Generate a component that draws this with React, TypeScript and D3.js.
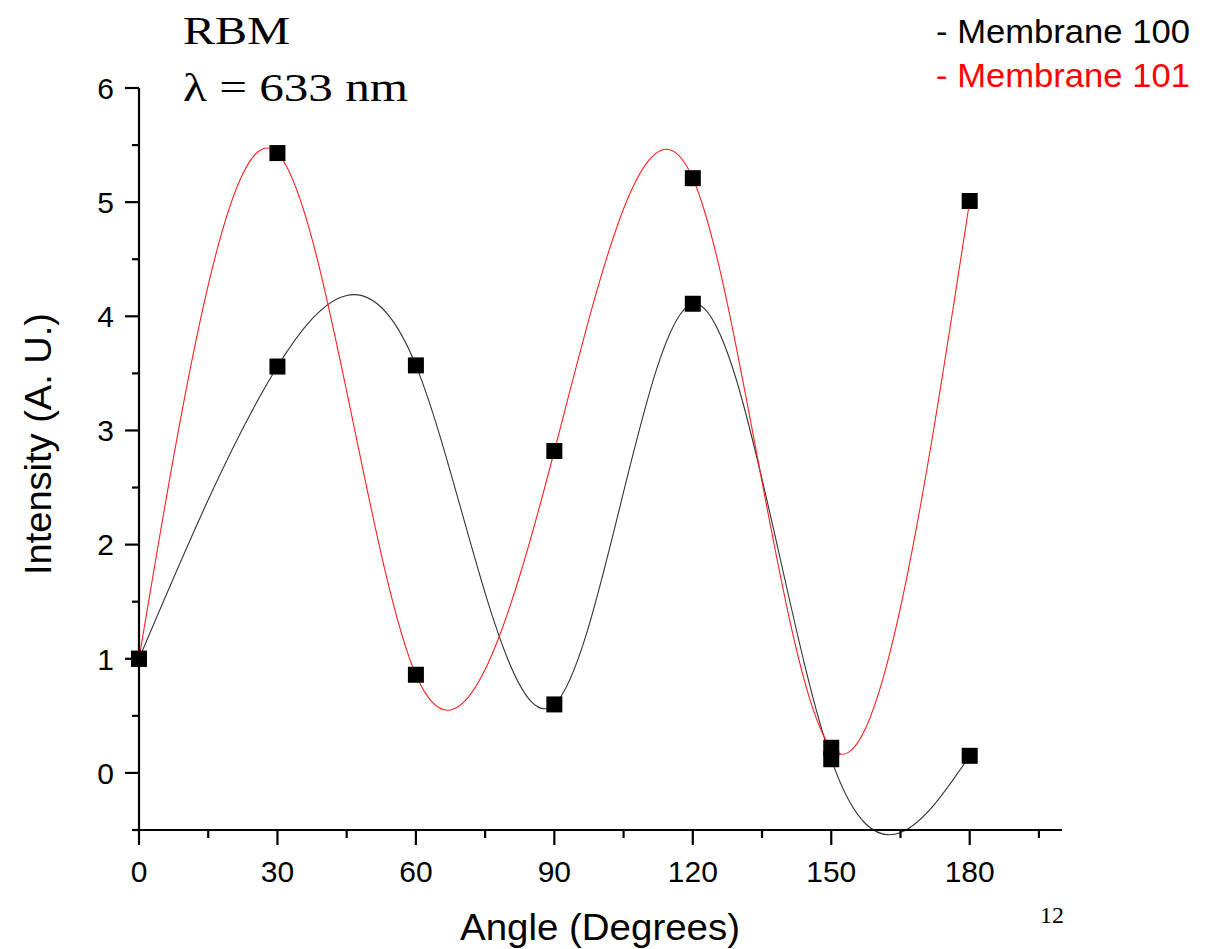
import React from "react";
import * as d3 from "d3";

const angles = [0, 30, 60, 90, 120, 150, 180];
const membrane100 = [1.0, 3.56, 3.57, 0.6, 4.11, 0.12, 0.15];
const membrane101 = [1.0, 5.43, 0.86, 2.82, 5.21, 0.22, 5.01];
const xTicks = [0, 30, 60, 90, 120, 150, 180];
const xMinor = [15, 45, 75, 105, 135, 165, 195];
const yTicks = [0, 1, 2, 3, 4, 5, 6];
const yMinor = [-0.5, 0.5, 1.5, 2.5, 3.5, 4.5, 5.5];
const seriesNames = ["- Membrane 100", "- Membrane 101"];
const seriesColors = ["#000000", "#ff0000"];

export default function App() {
  const W = 1209, H = 949;
  const x = d3.scaleLinear().domain([0, 200]).range([139, 1062]);
  const y = d3.scaleLinear().domain([-0.5, 6]).range([830, 88]);
  const line = d3
    .line<[number, number]>()
    .x((d) => x(d[0]))
    .y((d) => y(d[1]))
    .curve(d3.curveNatural);
  const series = [membrane100, membrane101];
  const sans = "'Liberation Sans', Arial, sans-serif";
  const serif = "'Liberation Serif', 'Times New Roman', serif";
  const ms = 16;
  return (
    <svg width={W} height={H} style={{ position: "absolute", left: 0, top: 0 }} fontFamily={sans}>
      <rect width={W} height={H} fill="#fff" />
      {/* curves */}
      {series.map((vals, i) => (
        <path
          key={i}
          d={line(angles.map((a, j) => [a, vals[j]] as [number, number])) || ""}
          fill="none"
          stroke={i === 0 ? "#333" : "#ff2020"}
          strokeWidth={1.1}
        />
      ))}
      {/* axes */}
      <line x1={x(0)} x2={x(0)} y1={y(6)} y2={y(-0.5) + 2} stroke="#000" strokeWidth={2.2} />
      <line x1={x(0) - 7} x2={x(200)} y1={y(-0.5)} y2={y(-0.5)} stroke="#000" strokeWidth={2.2} />
      {yTicks.map((t) => (
        <g key={"y" + t}>
          <line x1={x(0) - 14} x2={x(0)} y1={y(t)} y2={y(t)} stroke="#000" strokeWidth={2.2} />
          <text x={114} y={y(t)} dy="0.36em" textAnchor="end" fontSize={30}>
            {t}
          </text>
        </g>
      ))}
      {yMinor.map((t) => (
        <line key={"ym" + t} x1={x(0) - 7} x2={x(0)} y1={y(t)} y2={y(t)} stroke="#000" strokeWidth={2.2} />
      ))}
      {xTicks.map((t) => (
        <g key={"x" + t}>
          <line x1={x(t)} x2={x(t)} y1={y(-0.5)} y2={y(-0.5) + 15} stroke="#000" strokeWidth={2.2} />
          <text x={x(t)} y={882} textAnchor="middle" fontSize={30}>
            {t}
          </text>
        </g>
      ))}
      {xMinor.map((t) => (
        <line key={"xm" + t} x1={x(t)} x2={x(t)} y1={y(-0.5)} y2={y(-0.5) + 8} stroke="#000" strokeWidth={2.2} />
      ))}
      {/* markers */}
      {series.map((vals, i) =>
        vals.map((v, j) => (
          <rect
            key={i + "-" + j}
            x={x(angles[j]) - ms / 2}
            y={y(v) - ms / 2}
            width={ms}
            height={ms}
            fill="#000"
          />
        ))
      )}
      {/* axis titles */}
      <text x={600} y={940} textAnchor="middle" fontSize={36} textLength={280} lengthAdjust="spacingAndGlyphs">
        Angle (Degrees)
      </text>
      <text
        transform="translate(51,444) rotate(-90)"
        textAnchor="middle"
        fontSize={36}
        textLength={262}
        lengthAdjust="spacingAndGlyphs"
      >
        Intensity (A. U.)
      </text>
      {/* title */}
      <text x={183} y={44} fontFamily={serif} fontSize={40} textLength={107} lengthAdjust="spacingAndGlyphs">
        RBM
      </text>
      <text x={183} y={101} fontFamily={serif} fontSize={40} textLength={225} lengthAdjust="spacingAndGlyphs">
        λ = 633 nm
      </text>
      {/* legend */}
      {seriesNames.map((n, i) => (
        <text
          key={n}
          x={936}
          y={43 + i * 44}
          fontSize={33}
          fill={seriesColors[i]}
          textLength={254}
          lengthAdjust="spacingAndGlyphs"
        >
          {n}
        </text>
      ))}
      <text x={1040} y={923} fontFamily={serif} fontSize={24}>
        12
      </text>
    </svg>
  );
}
